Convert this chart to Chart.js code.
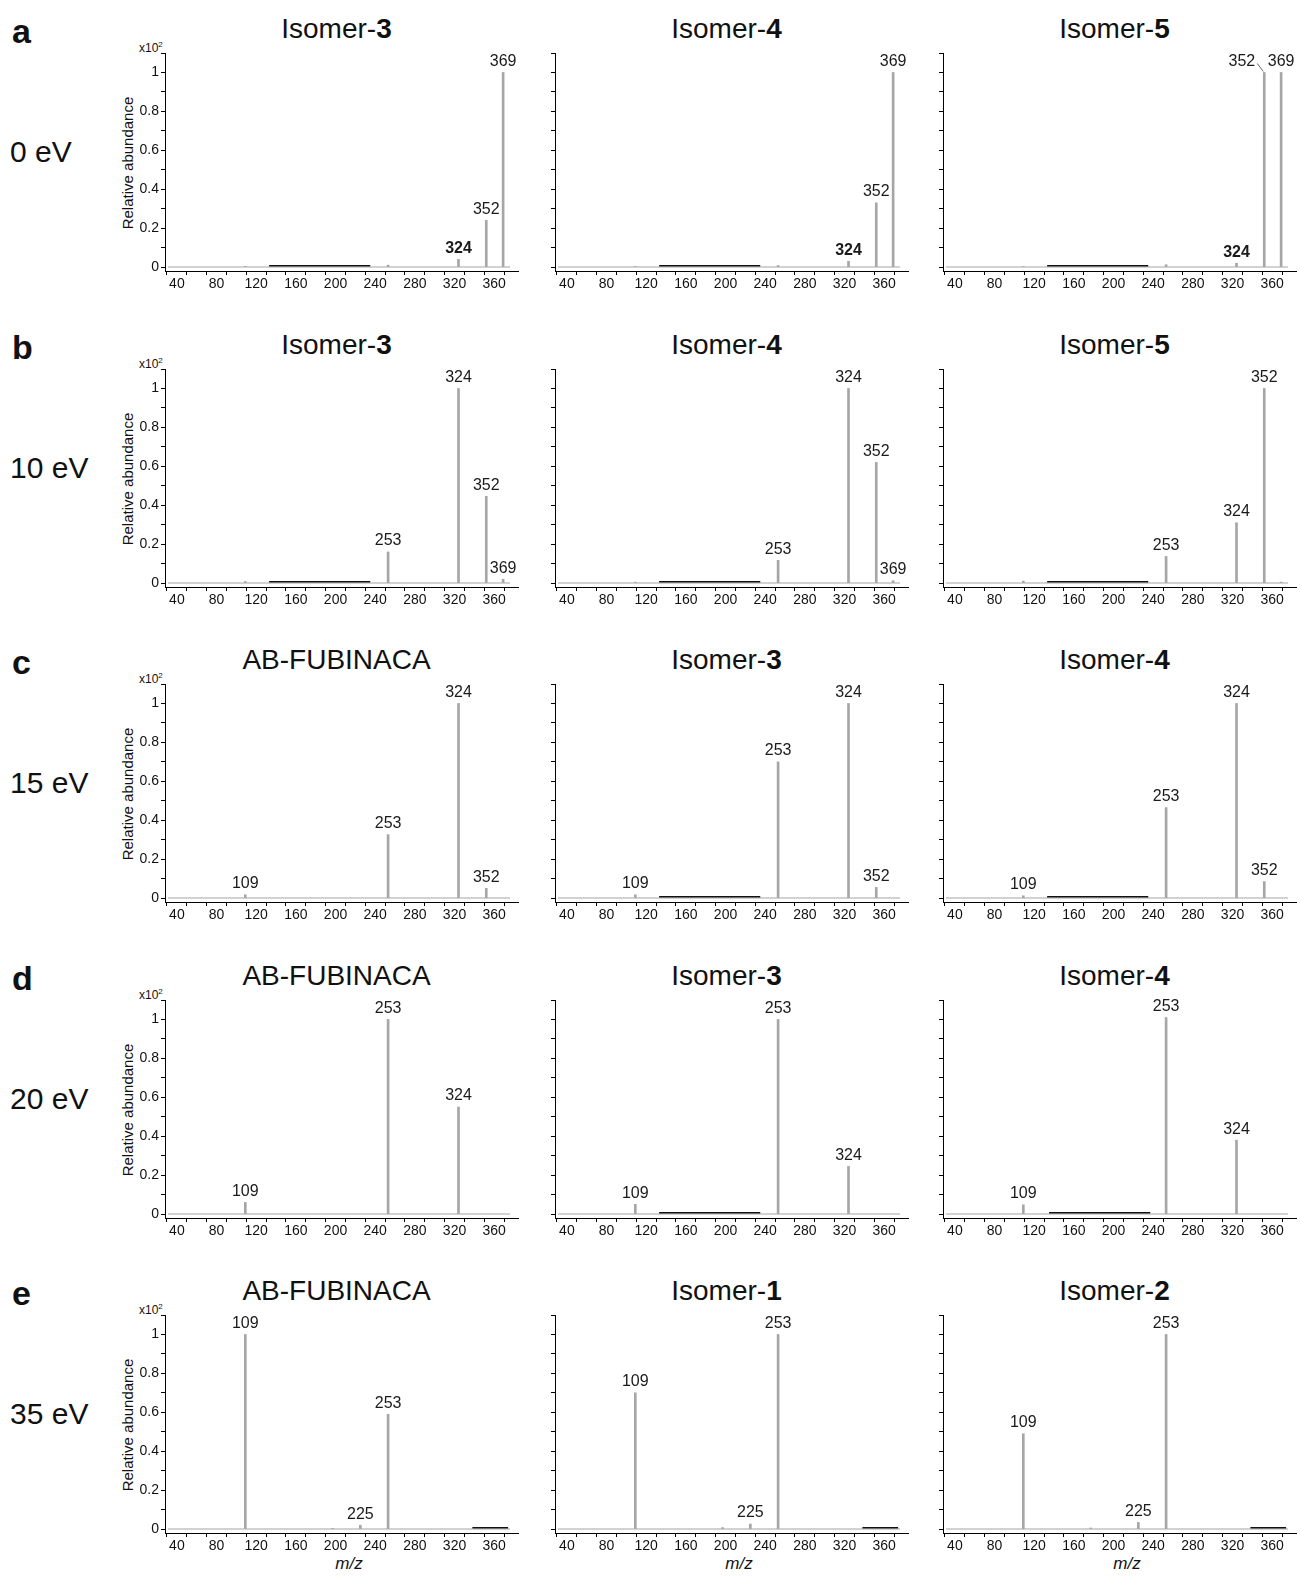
<!DOCTYPE html>
<html>
<head>
<meta charset="utf-8">
<script src="https://cdn.jsdelivr.net/npm/chart.js@4.4.0/dist/chart.umd.min.js"></script>
<style>
  body { margin: 0; background: #fff; font-family: "Liberation Sans", Arial, sans-serif; color: #111; }
  #fig { position: relative; width: 1301px; height: 1579px; overflow: hidden; }
  .abs { position: absolute; white-space: nowrap; }
  .letter { font-size: 34px; font-weight: bold; line-height: 1; }
  .energy { font-size: 30px; line-height: 1; }
  .ttl { font-size: 28px; line-height: 1; transform: translateX(-50%); }
  .ylab { font-size: 15px; transform: translate(-50%, -50%) rotate(-90deg); }
  .mult { font-size: 12px; }
  .mult sup { font-size: 8px; }
  .mz { font-size: 17px; font-style: italic; transform: translateX(-50%); }
  canvas { position: absolute; }
</style>
</head>
<body>
<div id="fig"></div>
<script>
const rowLetters = ["a", "b", "c", "d", "e"];
const energies = ["0 eV", "10 eV", "15 eV", "20 eV", "35 eV"];
const panelTitles = [
  ["Isomer-3", "Isomer-4", "Isomer-5"],
  ["Isomer-3", "Isomer-4", "Isomer-5"],
  ["AB-FUBINACA", "Isomer-3", "Isomer-4"],
  ["AB-FUBINACA", "Isomer-3", "Isomer-4"],
  ["AB-FUBINACA", "Isomer-1", "Isomer-2"]
];

// m/z of each peak and its relative abundance (x10^2)
const peakMz = [
  [[109, 253, 324, 352, 369], [109, 253, 324, 352, 369], [109, 253, 324, 352, 369]],
  [[109, 253, 324, 352, 369], [109, 253, 324, 352, 369], [109, 253, 324, 352, 369]],
  [[109, 253, 324, 352], [109, 253, 324, 352], [109, 253, 324, 352]],
  [[109, 253, 324], [109, 253, 324], [109, 253, 324]],
  [[109, 197, 225, 253], [109, 197, 225, 253], [109, 177, 225, 253]]
];
const peakAbundance = [
  [[0.004, 0.01, 0.04, 0.24, 1.0], [0.003, 0.008, 0.03, 0.33, 1.0], [0.003, 0.012, 0.02, 1.0, 1.0]],
  [[0.008, 0.16, 1.0, 0.446, 0.02], [0.005, 0.117, 1.0, 0.62, 0.012], [0.01, 0.137, 0.31, 1.0, 0.005]],
  [[0.017, 0.326, 1.0, 0.05], [0.017, 0.70, 1.0, 0.055], [0.012, 0.465, 1.0, 0.085]],
  [[0.06, 1.0, 0.55], [0.05, 1.0, 0.245], [0.048, 1.01, 0.38]],
  [[1.0, 0.004, 0.02, 0.59], [0.70, 0.008, 0.026, 1.0], [0.49, 0.006, 0.034, 1.0]]
];
const peakLabels = [
  [[324, 352, 369], [324, 352, 369], [324, 352, 369]],
  [[253, 324, 352, 369], [253, 324, 352, 369], [253, 324, 352]],
  [[109, 253, 324, 352], [109, 253, 324, 352], [109, 253, 324, 352]],
  [[109, 253, 324], [109, 253, 324], [109, 253, 324]],
  [[109, 225, 253], [109, 225, 253], [109, 225, 253]]
];
const boldLabels = [[324], [], [], [], []];

// baseline trace and the dark bar drawn along it
const baseline = [31, 376];
const darkSegments = [
  [[133, 235], [133, 235], [133, 235]],
  [[133, 235], [133, 235], [133, 235]],
  [null, [133, 235], [133, 235]],
  [null, [133, 235], [135, 237]],
  [[338, 374], [338, 374], [338, 374]]
];

const xTicks = [40, 60, 80, 100, 120, 140, 160, 180, 200, 220, 240, 260, 280, 300, 320, 340, 360, 380];
const xTickLabels = [40, 80, 120, 160, 200, 240, 280, 320, 360];
const yTicks = [0, 0.1, 0.2, 0.3, 0.4, 0.5, 0.6, 0.7, 0.8, 0.9, 1, 1.1];
const yTickLabels = { 0: "0", 0.2: "0.2", 0.4: "0.4", 0.6: "0.6", 0.8: "0.8", 1: "1" };

const fig = document.getElementById("fig");
const axisX = [165, 555, 943];
const rowStep = 315.5;
const plotW = 353;
const fontFam = "'Liberation Sans', Arial, sans-serif";

function addDiv(cls, html, left, top) {
  const d = document.createElement("div");
  d.className = "abs " + cls;
  d.innerHTML = html;
  d.style.left = left + "px";
  d.style.top = top + "px";
  fig.appendChild(d);
  return d;
}

const peakLabelPlugin = {
  id: "peakLabels",
  afterDatasetsDraw(chart, args, opts) {
    const { ctx } = chart;
    const xs = chart.scales.x, ys = chart.scales.y;
    opts.items.forEach(it => {
      const px = xs.getPixelForValue(it.mz);
      const py = ys.getPixelForValue(it.y);
      ctx.save();
      ctx.fillStyle = "#1a1a1a";
      ctx.font = (it.bold ? "bold " : "") + "16px " + fontFam;
      ctx.textBaseline = "bottom";
      if (it.leader) {
        // label pushed left with a short leader to its peak
        ctx.textAlign = "right";
        ctx.fillText(String(it.mz), px - 9, py - 3);
        ctx.strokeStyle = "#666";
        ctx.lineWidth = 1;
        ctx.beginPath();
        ctx.moveTo(px - 7, py - 9);
        ctx.lineTo(px - 1, py - 1);
        ctx.stroke();
      } else {
        ctx.textAlign = "center";
        ctx.fillText(String(it.mz), px, py - 3);
      }
      ctx.restore();
    });
  }
};

rowLetters.forEach((letter, r) => {
  const top = Math.round(r * rowStep);
  addDiv("letter", letter, 12, top + 14);
  addDiv("energy", energies[r], 10, top + 137);
  addDiv("mult", "x10<sup>2</sup>", 139, top + 40);
  addDiv("ylab", "Relative abundance", 127, top + 163);

  panelTitles[r].forEach((title, c) => {
    const ax = axisX[c];
    addDiv("ttl", title.replace(/(\d+)$/, "<b>$1</b>"), ax + plotW / 2 - 5, top + 15);
    if (r === rowLetters.length - 1) addDiv("mz", "m/z", ax + 184, top + 292);

    const cv = document.createElement("canvas");
    cv.width = 60 + plotW + 12;
    cv.height = 266;
    cv.style.left = (ax - 60) + "px";
    cv.style.top = (top + 40) + "px";
    fig.appendChild(cv);

    const mz = peakMz[r][c];
    const ab = peakAbundance[r][c];
    const items = peakLabels[r][c].map(m => ({
      mz: m,
      y: ab[mz.indexOf(m)],
      bold: boldLabels[r].includes(m),
      leader: r === 0 && c === 2 && m === 352
    }));

    const datasets = [
      {
        type: "line",
        data: [{ x: baseline[0], y: 0 }, { x: baseline[1], y: 0 }],
        borderColor: "#d2d2d2",
        borderWidth: 2,
        pointRadius: 0,
        order: 3
      }
    ];
    const seg = darkSegments[r][c];
    if (seg) {
      datasets.push({
        type: "line",
        data: [{ x: seg[0], y: 0.007 }, { x: seg[1], y: 0.007 }],
        borderColor: "#111",
        borderWidth: 1.5,
        pointRadius: 0,
        order: 2
      });
    }
    datasets.push({
      type: "bar",
      data: mz.map((m, i) => ({ x: m, y: ab[i] })),
      backgroundColor: "#a6a6a6",
      barThickness: 2,
      grouped: false,
      order: 1
    });

    new Chart(cv, {
      type: "bar",
      data: { datasets },
      plugins: [peakLabelPlugin],
      options: {
        responsive: false,
        animation: false,
        layout: { padding: { top: 13, right: 12, bottom: 5, left: 0 } },
        plugins: {
          legend: { display: false },
          tooltip: { enabled: false },
          peakLabels: { items }
        },
        scales: {
          x: {
            type: "linear",
            min: 28,
            max: 384,
            offset: false,
            afterBuildTicks: s => { s.ticks = xTicks.map(v => ({ value: v })); },
            afterFit: s => { s.height = 30; },
            border: { display: true, color: "#000", width: 1 },
            grid: { display: true, drawOnChartArea: false, drawTicks: true, tickLength: 4, color: "#000" },
            ticks: {
              autoSkip: false,
              maxRotation: 0,
              padding: 1,
              color: "#111",
              font: { size: 14, family: fontFam },
              callback: v => xTickLabels.includes(v) ? String(v) : ""
            }
          },
          y: {
            min: -0.02,
            max: 1.1,
            afterBuildTicks: s => { s.ticks = yTicks.map(v => ({ value: v })); },
            afterFit: s => { s.width = 60; },
            border: { display: true, color: "#000", width: 1 },
            grid: { display: true, drawOnChartArea: false, drawTicks: true, tickLength: 4, color: "#000" },
            ticks: {
              autoSkip: false,
              padding: 2,
              color: "#111",
              font: { size: 14, family: fontFam },
              callback: v => (c === 0 && yTickLabels[v] !== undefined) ? yTickLabels[v] : ""
            }
          }
        }
      }
    });
  });
});
</script>
</body>
</html>
